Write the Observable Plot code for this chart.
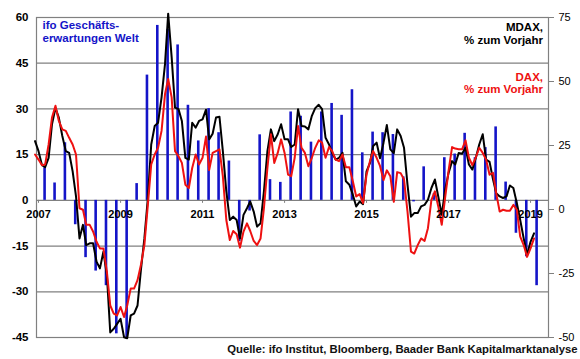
<!DOCTYPE html>
<html><head><meta charset="utf-8">
<script src="https://cdn.jsdelivr.net/npm/d3@7"></script>
<script src="https://cdn.jsdelivr.net/npm/@observablehq/plot@0.6"></script>
<style>html,body{margin:0;padding:0;background:#fff} svg{display:block}</style>
</head><body><div id="chart"></div>
<script>
// ---- data ----
// monthly series, first value = Dec 2006, last = Feb 2019 (% zum Vorjahr)
const lineStartYear = 2006, lineStartMonth = 11;
const mdax = [26.7, 22.8, 17.3, 16.5, 20.2, 33.3, 39.6, 35.9, 28.7, 22.8, 22.1, 14.9, 5.1,
  -11.3, -6, -13.9, -13.2, -13.2, -20.4, -23, -16.5, -25.7, -48, -46.6, -44.7,
  -42.7, -49.9, -50.3, -41.4, -40.7, -37.5, -23.7, -11.3, 4.5, 25.4, 32.6, 33.9,
  43.8, 56.9, 76.5, 59.5, 39.8, 39.2, 34.6, 20.2, 19.5, 33.9, 32, 34.6,
  35.2, 39, 27.4, 29.6, 35.9, 36.2, 22.8, 7.1, -4.1, -2.8, -4.1, -11.3,
  -2.1, 0.5, 3.1, -0.8, -6.7, -5.4, 7.1, 22.8, 31.3, 26.7, 29.4, 33.3,
  27.4, 27.4, 24.4, 25.4, 39.2, 32.6, 32.4, 31.3, 36.6, 39.6, 40.9, 39.2,
  28, 25.4, 22.1, 19.5, 20.2, 22.1, 11, 9.7, 5.8, 1.2, 3.1, 2.1,
  14.9, 18.2, 24.8, 26.1, 20, 26, 33, 23.5, 22, 31.3, 28.7, 24.1,
  9.7, -2.8, -1.4, -1.4, 1.2, 1.8, 3.8, 8.4, 11.7, 5.1, -2.1, 7.7,
  14.3, 18.9, 17.6, 22.1, 21.8, 24.1, 17.6, 15.6, 20.2, 25.4, 29.4, 19.5,
  18.6, 11.7, 6.4, 5.1, 4.5, 5.1, 9.4, 8.4, 2.5, -4.1, -11.3, -17.8,
  -12.6, -9.3];
const dax = [21.5, 19.5, 17.3, 17.6, 25.4, 35.9, 40.5, 34.6, 31.3, 30.7, 28, 25.4, 21.5,
  0.5, -0.1, -6, -6, -8.6, -12.6, -15.2, -15.2, -24.4, -37.5, -40.7, -41.4,
  -38.1, -42, -37.5, -30.9, -30.9, -27.6, -21.7, -13.9, 1.8, 17.6, 21.5, 24.1,
  30.7, 45.1, 51, 43.8, 22.8, 20.8, 18.2, 9.7, 8.4, 16.2, 21.5, 17.6,
  20.2, 28.5, 15.4, 22.1, 22.8, 23.5, 13, -4.1, -11.9, -8.4, -9.7, -14.9,
  -8.6, -5.4, -8.4, -12.3, -13.9, -11.3, 0.5, 16.2, 29.4, 18.2, 22.1, 27.4,
  22.1, 13.6, 13, 20.2, 32.6, 24.1, 22.1, 16.9, 20.2, 24.1, 27, 26.1,
  20.2, 24.4, 22.8, 19.5, 18.9, 21.5, 16.5, 16.5, 11, 5.1, 6, 2.5,
  13.6, 18.9, 22.8, 20.2, 17, 11.5, 15.3, 13, 3, 14.6, 14.2, 11.7,
  -0.8, -16.5, -17.2, -13.9, -11.3, -12.3, -7.3, 3.8, 7.1, 1.2, -6, 4.5,
  15.2, 24.4, 23.8, 23.5, 23.5, 27, 20.2, 17.3, 20.4, 24.1, 22.1, 19.5,
  13.6, 14.3, 6.4, -0.8, -0.1, -0.5, -0.5, 1.8, -0.1, -10.6, -13.9, -18.5,
  -15.2, -11.3];
// quarterly ifo Geschäftserwartungen Welt, Q1 2007 .. Q1 2019
const ifoStartYear = 2007;
const ifo = [10.7, 5.7, 18.9, -8,
  -18.8, -23.2, -28, -43.8,
  -45.5, 5.5, 41.1, 57.4,
  56.1, 51, 31.2, 19.5,
  30.1, 22.2, 12.9, -13.5,
  -3.5, 21.5, 6.8, 5.9,
  29, 27.6, 19.1, 29,
  31.8, 27.9, 36.3, 15.6,
  22.4, 22.2, 21.6, 7.7,
  -0.5, 11, 2.2, 14,
  15.2, 22, 14, 17.3,
  24.1, 6, -10.8, -18.5,
  -28];
const leftTicks = [-45, -30, -15, 0, 15, 30, 45, 60];
const rightTicks = [-50, -25, 0, 25, 50, 75];
const yearLabels = [2007, 2009, 2011, 2013, 2015, 2017, 2019];
const ifoLabel = "ifo Geschäfts-\nerwartungen Welt";
const mdaxLabel = "MDAX,\n% zum Vorjahr";
const daxLabel = "DAX,\n% zum Vorjahr";
const source = "Quelle: ifo Institut, Bloomberg, Baader Bank Kapitalmarktanalyse";

// ---- build ----
const L0 = leftTicks[0], L1 = leftTicks[leftTicks.length - 1];
const R0 = rightTicks[0], R1 = rightTicks[rightTicks.length - 1];
const toLeft = v => L0 + (v - R0) * (L1 - L0) / (R1 - R0);
const fromLeft = u => String(Math.round(R0 + (u - L0) * (R1 - R0) / (L1 - L0)));

const monthDate = i => new Date(Date.UTC(lineStartYear, lineStartMonth + i, 1));
const mdaxData = mdax.map((v, i) => ({date: monthDate(i), v}));
const daxData = dax.map((v, i) => ({date: monthDate(i), v}));
const ifoData = ifo.map((v, i) => ({date: new Date(Date.UTC(ifoStartYear + Math.floor(i / 4), (i % 4) * 3 + 1, 24)), v}));
const yearDate = y => new Date(Date.UTC(y, 0, 1));

const BLUE = "#1414c8", RED = "#ee1111", GRID = "#808080";
const FONT = "Arial, 'Liberation Sans', Helvetica, sans-serif";

const chart = Plot.plot({
  width: 580, height: 359,
  marginLeft: 36, marginRight: 32, marginTop: 17, marginBottom: 22,
  style: {fontFamily: FONT, fontSize: "11px", background: "#fff", color: "#000", overflow: "visible"},
  x: {type: "utc", domain: [new Date(Date.UTC(2006, 11, 14)), new Date(Date.UTC(2019, 5, 10))], axis: null},
  y: {domain: [L0, L1], axis: null},
  marks: [
    Plot.gridY(leftTicks, {stroke: GRID, strokeOpacity: 1, strokeWidth: 1.2}),
    Plot.frame({stroke: GRID, strokeWidth: 1.2}),
    Plot.ruleX(yearLabels, {x: yearDate, y1: 0, y2: 0, insetBottom: -3, stroke: GRID}),
    Plot.ruleX(ifoData, {x: "date", y1: 0, y2: "v", stroke: BLUE, strokeWidth: 2.6}),
    Plot.line(mdaxData, {x: "date", y: d => toLeft(d.v), stroke: "#000", strokeWidth: 2, curve: "linear"}),
    Plot.line(daxData, {x: "date", y: d => toLeft(d.v), stroke: RED, strokeWidth: 2, curve: "linear"}),
    Plot.axisY(leftTicks, {anchor: "left", tickSize: 0, tickPadding: 8, fontWeight: "bold", fontSize: 11.5, tickFormat: d => String(d), label: null}),
    Plot.axisY(rightTicks.map(toLeft), {anchor: "right", tickSize: 5, tickPadding: 5, stroke: GRID, fill: "#000", fontSize: 11, tickFormat: fromLeft, label: null}),
    Plot.text(yearLabels, {x: yearDate, y: 0, text: d => String(d), lineAnchor: "top", dy: 10, fontWeight: "bold", fontSize: 11}),
    Plot.text([ifoLabel], {frameAnchor: "top-left", text: d => d, textAnchor: "start", lineAnchor: "top", dx: 6, dy: 2.8, lineHeight: 1.1, fill: BLUE, fontWeight: "bold", fontSize: 11.5}),
    Plot.text([mdaxLabel], {frameAnchor: "top-right", text: d => d, textAnchor: "end", lineAnchor: "top", dx: -5.5, dy: 4.8, lineHeight: 1.1, fill: "#000", fontWeight: "bold", fontSize: 11.5}),
    Plot.text([daxLabel], {frameAnchor: "top-right", text: d => d, textAnchor: "end", lineAnchor: "top", dx: -5.5, dy: 55.3, lineHeight: 1.05, fill: RED, fontWeight: "bold", fontSize: 11.5}),
    Plot.text([source], {frameAnchor: "bottom-right", text: d => d, textAnchor: "end", lineAnchor: "top", dx: 29, dy: 7.5, fill: "#111", fontWeight: "bold", fontSize: 11.3})
  ]
});
document.getElementById("chart").appendChild(chart);
</script>
</body></html>
